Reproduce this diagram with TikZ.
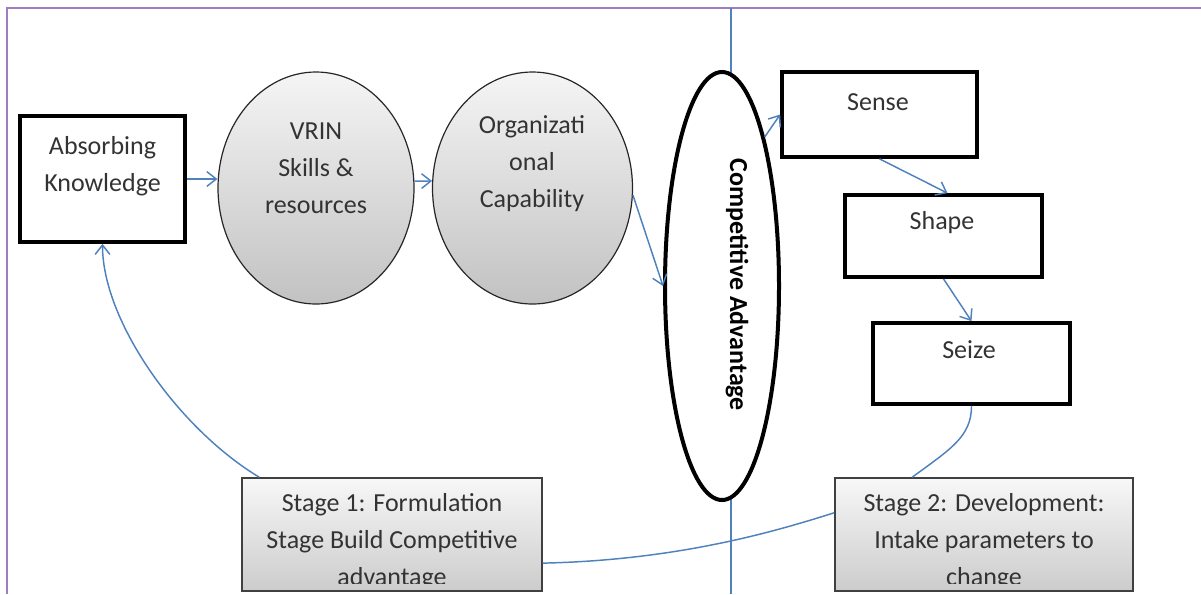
\documentclass[tikz,border=0pt]{standalone}
\usepackage{fontspec}
\setmainfont{Carlito}
\usetikzlibrary{arrows.meta,calc,shapes.geometric}
\definecolor{linkblue}{RGB}{79,129,189}
\definecolor{framepurple}{RGB}{160,125,195}
\begin{document}
\begin{tikzpicture}[x=0.75pt,y=-0.75pt,
  every node/.style={font=\fontsize{19.5}{27.75}\selectfont, text=black!80, inner sep=0pt},
  thickbox/.style={draw=black, line width=2.8pt, fill=white, rectangle},
  greyoval/.style={draw=black!85, line width=0.9pt, ellipse, top color=gray!8, bottom color=gray!48},
  stagebox/.style={draw=black!75, line width=1.1pt, rectangle, top color=gray!6, bottom color=gray!40},
  label/.style={align=center},
  link/.style={draw=linkblue, line width=1.1pt},
  arrowlink/.style={link, -{Straight Barb[length=7pt,width=11pt,line width=1.1pt]}}]

\useasboundingbox (0,0) rectangle (1201,594);

% page frame
\draw[framepurple, line width=1.6pt] (7,594) -- (7,8) -- (1201,8);

% divider behind the central oval
\coordinate (divtop) at (731,8);
\coordinate (divbot) at (731,594);
\draw[link] (divtop) -- (divbot);

% first-stage chain
\node[thickbox, minimum width=123.75pt, minimum height=94.5pt] (absorb) at (102.5,179) {};
\node[label] (absorbtxt) at (102.5,166) {Absorbing\\Knowledge};

\node[greyoval, minimum width=147pt, minimum height=174pt] (vrin) at (316,188) {};
\node[label] (vrintxt) at (316,168) {VRIN\\Skills \&\\resources};

\node[greyoval, minimum width=150pt, minimum height=174pt] (org) at (532.5,188) {};
\node[label] (orgtxt) at (532,164) {Organizati\\onal\\Capability};

% central oval
\node[draw=black, line width=3pt, ellipse, fill=white, minimum width=85.5pt, minimum height=321pt] (comp) at (722,286) {};
\node[rotate=-90, font=\fontsize{19.5}{23}\selectfont\bfseries, text=black] (comptxt) at (737,285) {Competitive Advantage};

% second-stage chain
\node[thickbox, minimum width=146.25pt, minimum height=63.75pt] (sense) at (879.5,114.5) {};
\node (sensetxt) at (878,102) {Sense};

\node[thickbox, minimum width=147.75pt, minimum height=61.5pt] (shape) at (943.5,236) {};
\node (shapetxt) at (942,223) {Shape};

\node[thickbox, minimum width=147.75pt, minimum height=60.75pt] (seize) at (971.5,363.5) {};
\node (seizetxt) at (969,350) {Seize};

% stage boxes
\node[stagebox, minimum width=225pt, minimum height=84.75pt] (st1) at (392,534.5) {};
\node[stagebox, minimum width=223.5pt, minimum height=84.75pt] (st2) at (984,534.5) {};
\begin{scope}
  \clip (st1.north west) rectangle ([yshift=6pt]st1.south east);
  \node[label] (st1txt) at (392,542) {Stage 1: Formulation\\Stage Build Competitive\\advantage};
\end{scope}
\begin{scope}
  \clip (st2.north west) rectangle ([yshift=6pt]st2.south east);
  \node[label] (st2txt) at (984,542) {Stage 2: Development:\\Intake parameters to\\change};
\end{scope}

% connectors
\draw[arrowlink] (absorb.east) -- (absorb.east -| vrin.west);
\draw[arrowlink] (vrin.4) -- (org.176);
\draw[arrowlink] (org.-4) -- (comp.west);
\draw[arrowlink] (comp.74) -- (sense.west);
\draw[arrowlink] (sense.south) -- ([xshift=3pt]shape.north);
\draw[arrowlink] (shape.south) -- (seize.north);

\draw[link] (seize.south) .. controls +(0,31) and +(38,-28) ..
  ($(st2.north west)!0.26!(st2.north east)$);
\draw[link] ($(st2.north west)!0.31!(st2.south west)$) .. controls +(-54,17) and +(139,-3) ..
  ($(st1.north east)!0.75!(st1.south east)$);
\draw[arrowlink] ($(st1.north west)!0.06!(st1.north east)$) .. controls +(-80,-48) and +(0,78) ..
  (absorb.south);
\end{tikzpicture}
\end{document}
